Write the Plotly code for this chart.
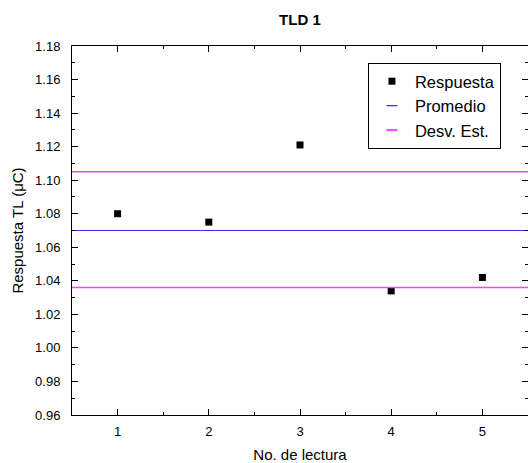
import plotly.graph_objects as go

lectura = [1, 2, 3, 4, 5]
respuesta = [1.080, 1.075, 1.121, 1.034, 1.042]
promedio = 1.070
desv_sup = 1.105
desv_inf = 1.036
x_span = [0.5, 5.5]

c_prom = "#3030ff"
c_desv = "#ff40ff"

fig = go.Figure()
fig.add_trace(go.Scatter(x=lectura, y=respuesta, mode="markers", name="Respuesta",
                         marker=dict(symbol="square", size=7, color="black")))
fig.add_trace(go.Scatter(x=x_span, y=[promedio, promedio], mode="lines", showlegend=False,
                         line=dict(color=c_prom, width=1)))
fig.add_trace(go.Scatter(x=x_span, y=[desv_sup, desv_sup], mode="lines", showlegend=False,
                         line=dict(color=c_desv, width=1.5)))
fig.add_trace(go.Scatter(x=x_span, y=[desv_inf, desv_inf], mode="lines", showlegend=False,
                         line=dict(color=c_desv, width=1.5)))
# legend entries with short line samples (points placed outside the visible range)
fig.add_trace(go.Scatter(x=[-10], y=[-10], mode="markers", name="Promedio", cliponaxis=True,
                         marker=dict(symbol="line-ew-open", size=8, color=c_prom,
                                     line=dict(color=c_prom, width=1.2))))
fig.add_trace(go.Scatter(x=[-10], y=[-10], mode="markers", name="Desv. Est.", cliponaxis=True,
                         marker=dict(symbol="line-ew-open", size=8, color=c_desv,
                                     line=dict(color=c_desv, width=2))))

font = "Liberation Sans, Arial, sans-serif"
fig.update_layout(
    width=528, height=463,
    margin=dict(l=72, r=0, t=46, b=48),
    plot_bgcolor="white", paper_bgcolor="white",
    font=dict(family=font, size=13, color="black"),
    title=dict(text="<b>TLD 1</b>", x=0.568, xanchor="center", y=0.957, yanchor="middle",
               font=dict(size=15)),
    showlegend=True,
    legend=dict(x=0.649, y=0.954, xanchor="left", yanchor="top",
                bordercolor="black", borderwidth=1, bgcolor="white",
                font=dict(size=16.5), tracegroupgap=0, itemwidth=36),
    xaxis=dict(range=x_span, tickmode="array", tickvals=lectura, ticktext=[str(v) for v in lectura],
               ticks="inside", ticklen=6, tickcolor="black", showline=True, linecolor="black",
               linewidth=1, mirror="ticks", showgrid=False, zeroline=False, ticklabelstandoff=4,
               minor=dict(ticks="inside", ticklen=3, dtick=0.5, tick0=0.5, tickcolor="black"),
               title=dict(text="No. de lectura", font=dict(size=15), standoff=14)),
    yaxis=dict(range=[0.96, 1.18], dtick=0.02, tick0=0.96, tickformat=".2f",
               ticks="inside", ticklen=6, tickcolor="black", showline=True, linecolor="black",
               linewidth=1, mirror="ticks", showgrid=False, zeroline=False, ticklabelstandoff=8,
               minor=dict(ticks="inside", ticklen=3, dtick=0.01, tickcolor="black"),
               title=dict(text="Respuesta TL (μC)", font=dict(size=15), standoff=7)),
)
fig.write_html("out.html")
